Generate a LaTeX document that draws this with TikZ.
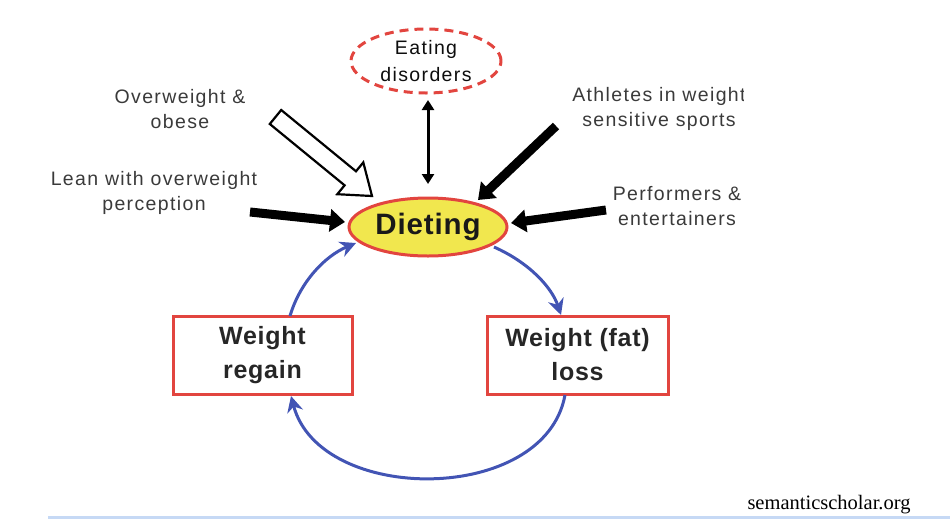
\documentclass[tikz,border=0pt]{standalone}
\usepackage{fontspec}
\setmainfont{Liberation Sans}
\newfontfamily\lblfont[LetterSpace=7]{Liberation Sans}
\newfontfamily\boldfont[LetterSpace=3]{Liberation Sans}
\newfontfamily\serifmark{Liberation Serif}
\usetikzlibrary{shapes.geometric,arrows.meta}
\definecolor{boxred}{HTML}{E2453F}
\definecolor{dietyellow}{HTML}{F1E74E}
\definecolor{cycblue}{HTML}{4254B4}
\definecolor{lbltext}{HTML}{3A3A3A}
\definecolor{rulecol}{HTML}{C6D9F5}
\tikzset{
  lbl/.style={align=center, text=lbltext, font=\lblfont\fontsize{19.5}{25}\selectfont, inner sep=0pt},
  edbox/.style={ellipse, draw=boxred, dashed, dash pattern=on 9pt off 6pt, line width=3pt, minimum width=150pt, minimum height=64pt, inner sep=0pt, align=center, text=black!95, font=\lblfont\fontsize{19.5}{27}\selectfont},
  dietbox/.style={ellipse, draw=boxred, fill=dietyellow, line width=3pt, minimum width=158pt, minimum height=58pt, inner sep=0pt, font=\boldfont\bfseries\fontsize{29.5}{30}\selectfont, text=black!90},
  cycbox/.style={rectangle, draw=boxred, line width=3pt, minimum height=78pt, inner sep=0pt, align=center, font=\boldfont\bfseries\fontsize{25}{34}\selectfont, text=black!85},
  blkarrow/.style={line width=9pt, -{Triangle[length=15pt,width=22pt]}},
  cycarrow/.style={draw=cycblue, line width=3pt, -{Stealth[length=16pt,width=16pt]}},
  dblarrow/.style={line width=3pt, {Triangle[length=10pt,width=12pt]}-{Triangle[length=10pt,width=12pt]}}
}
\begin{document}
\begin{tikzpicture}[x=1pt,y=-1pt]
\useasboundingbox (0,0) rectangle (950,520);
% nodes
\node[edbox] (eat) at (426,61) {Eating\\disorders};
\node[dietbox] (diet) at (428,227) {Dieting};
\node[cycbox, minimum width=179pt] (regain) at (262.5,355) {Weight\\regain};
\node[cycbox, minimum width=181pt] (loss) at (577.5,355) {Weight (fat)\\loss};
\node[lbl] (ow) at (180,109) {Overweight \&\\obese};
\node[lbl] (lean) at (154,193) {Lean with overweight\\perception};
\begin{scope}
\clip (540,80) rectangle (743,140);
\node[lbl] (ath) at (659,109) {Athletes in weight\\sensitive sports};
\end{scope}
\node[lbl] (perf) at (677,206) {Performers \&\\entertainers};
\node[font=\serifmark\fontsize{20.5}{22}\selectfont, inner sep=0pt] (src) at (829,505) {semanticscholar.org};
% bottom rule
\coordinate (rl) at (48,517);
\coordinate (rr) at (950,517);
\draw[rulecol, line width=3pt] (rl) -- (rr);
% double arrow to eating disorders
\coordinate (eatb) at (428,100);
\coordinate (dietT) at (428,184);
\draw[dblarrow] (eatb) -- (dietT);
% hollow arrow from overweight & obese
\draw[line width=2.2pt, line join=miter, fill=white]
  (269.8,124.0) -- (344.6,185.3) -- (337.3,194.2) -- (372,196) -- (363.3,162.4) -- (356.0,171.3) -- (281.2,110.0) -- cycle;
% black arrows
\coordinate (leanS) at (250,212);
\coordinate (leanE) at (345,222);
\draw[blkarrow] (leanS) -- (leanE);
\coordinate (athS) at (556,126);
\coordinate (athE) at (478,200);
\draw[blkarrow] (athS) -- (athE);
\coordinate (perfS) at (606,210);
\coordinate (perfE) at (511,223);
\draw[blkarrow] (perfS) -- (perfE);
% cycle arrows
\coordinate (c1s) at (494,247);
\coordinate (c1e) at (561,315);
\draw[cycarrow] (c1s) .. controls (530,263) and (552,288) .. (c1e);
\coordinate (c2s) at (565,395);
\coordinate (c2e) at (291,396);
\draw[cycarrow] (c2s) .. controls (545,505) and (320,505) .. (c2e);
\coordinate (c3s) at (290,316);
\coordinate (c3e) at (356,243);
\draw[cycarrow] (c3s) .. controls (300,282) and (325,256) .. (c3e);
\end{tikzpicture}
\end{document}
